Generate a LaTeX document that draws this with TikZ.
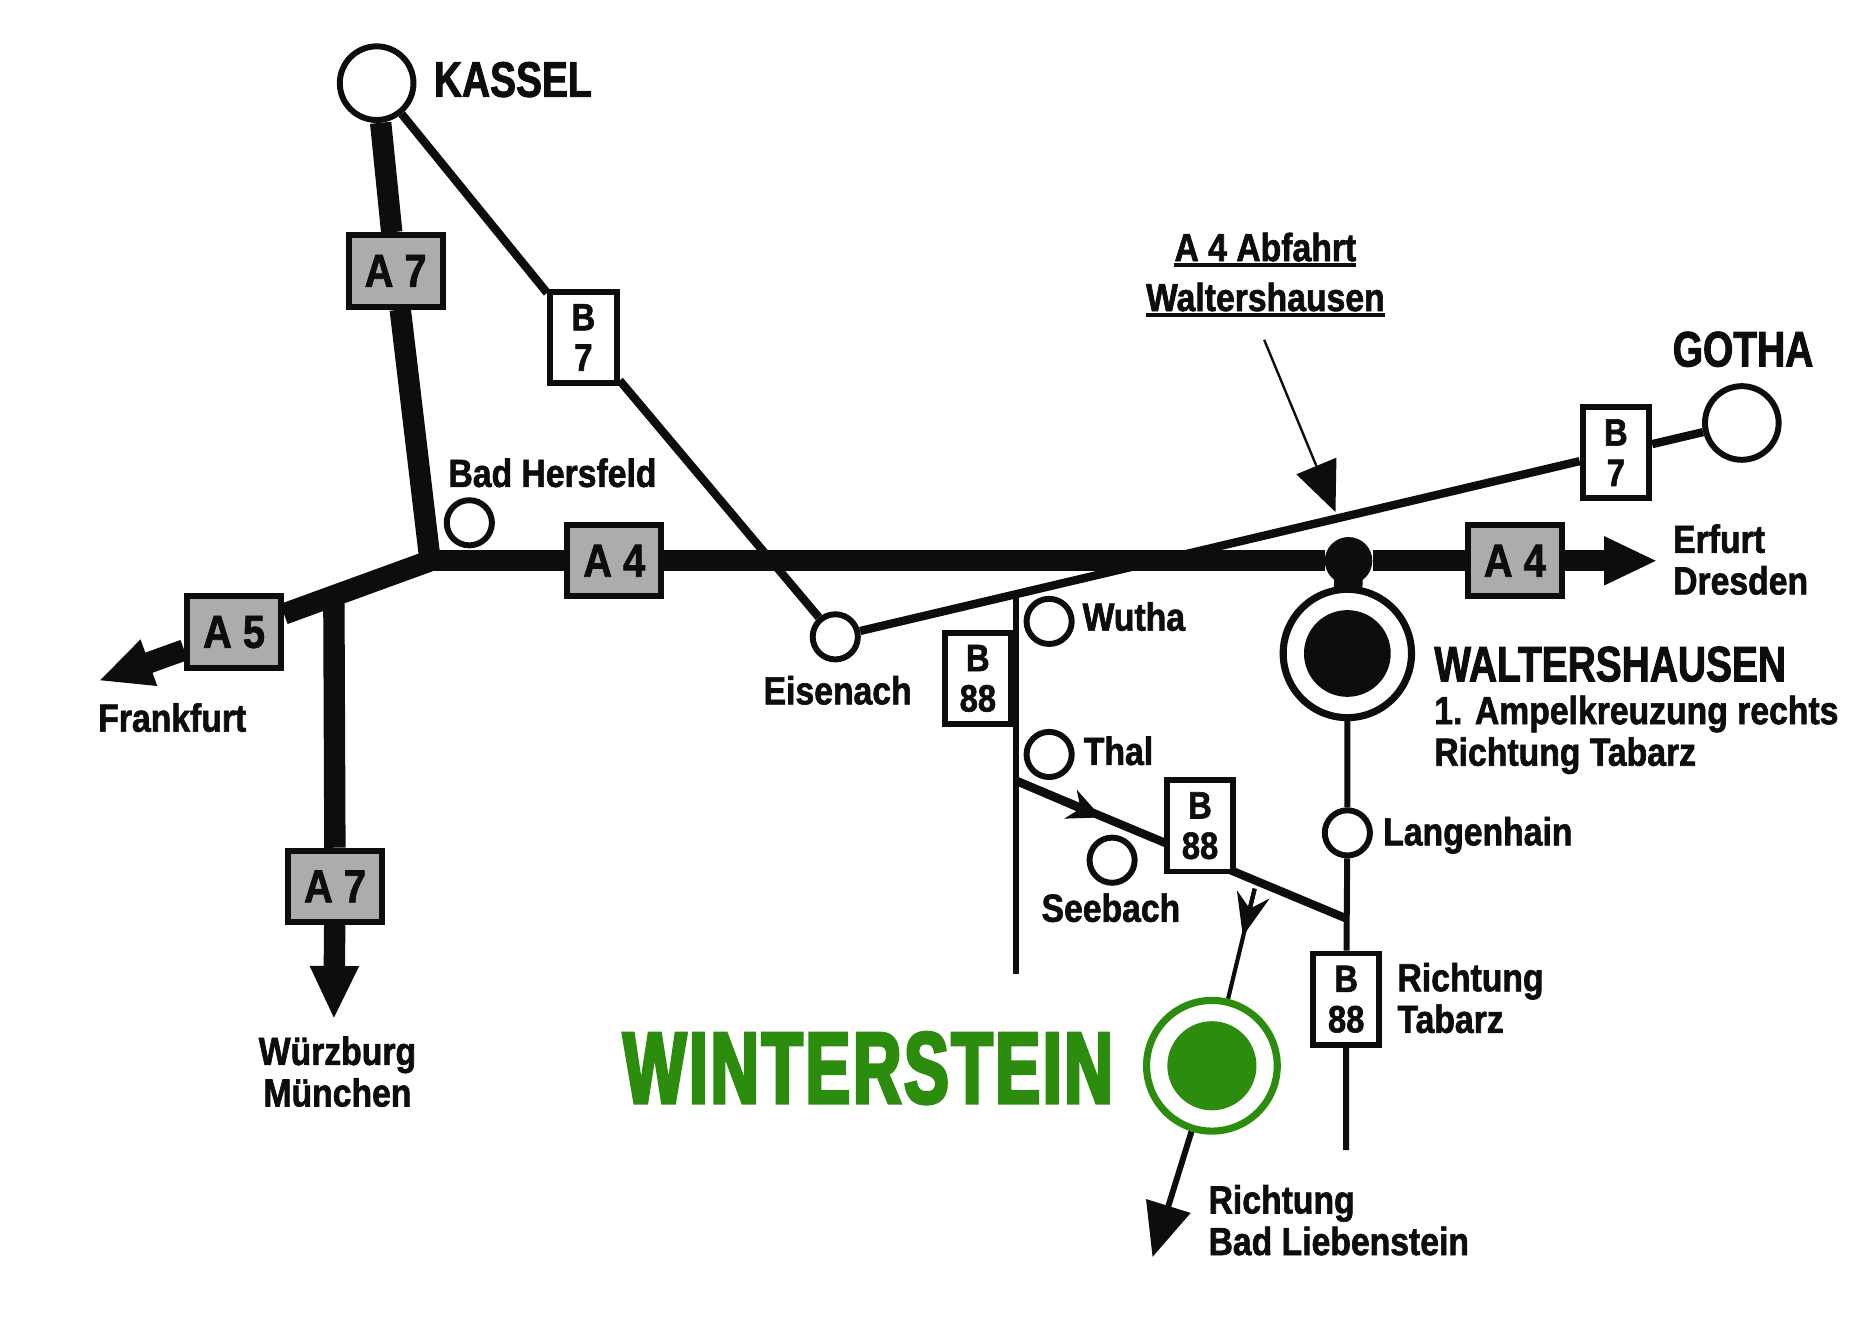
\documentclass[tikz,border=0pt]{standalone}
\usepackage{fontspec}
\setmainfont[FakeStretch=0.86, BoldFeatures={FakeBold=1.6}]{Liberation Sans}
\newfontfamily\capsfont[FakeStretch=0.78, BoldFeatures={FakeBold=1.8}]{Liberation Sans}
\newfontfamily\wsfont[FakeStretch=0.66, LetterSpace=3, BoldFeatures={FakeBold=3.5}]{Liberation Sans}
\usetikzlibrary{arrows.meta, backgrounds}
\definecolor{inkblack}{RGB}{11,14,12}
\definecolor{shieldgray}{RGB}{172,172,172}
\definecolor{wintergreen}{RGB}{43,140,13}
\tikzset{
  town/.style={circle, draw=inkblack, fill=white, line width=5pt, minimum size=38pt, inner sep=0pt},
  bigtown/.style={town, minimum size=62pt},
  ashield/.style={rectangle, draw=inkblack, fill=shieldgray, line width=5pt, minimum width=79pt, minimum height=60pt,
    inner sep=0pt, text=inkblack, font=\bfseries\fontsize{39}{39}\selectfont},
  bshield/.style={rectangle, draw=inkblack, fill=white, line width=5pt, minimum width=56pt, minimum height=77pt,
    inner sep=0pt, align=center, text=inkblack, font=\bfseries\fontsize{32}{34}\selectfont},
  label/.style={inner sep=0pt, align=left, text=inkblack, font=\bfseries\fontsize{33}{35}\selectfont},
  caps/.style={inner sep=0pt, text=inkblack, font=\capsfont\bfseries\fontsize{42}{44}\selectfont},
  motorway/.style={draw=inkblack, line width=18pt},
  federal/.style={draw=inkblack, line width=7pt},
  minor/.style={draw=inkblack, line width=5pt},
  bigtip/.style={-{Triangle[length=45pt, width=38pt]}},
}
\begin{document}
\begin{tikzpicture}[x=1pt, y=-1pt]
  \useasboundingbox (0, 0) rectangle (1568, 1117.7);

  \node [bigtown] (kassel) at (317, 70) {};
  \node [bigtown] (gotha) at (1466, 356) {};
  \node [town] (hersfeld) at (395, 440) {};
  \node [town] (eisenach) at (703, 536) {};
  \node [town] (wutha) at (883, 523) {};
  \node [town] (thal) at (883, 635) {};
  \node [town] (seebach) at (936, 724) {};
  \node [town] (langenhain) at (1134, 701) {};

  \node [circle, fill=inkblack, minimum size=40pt, inner sep=0pt] (exit) at (1135, 472) {};
  \node [circle, draw=inkblack, fill=white, line width=6pt, minimum size=108pt, inner sep=0pt] (walters) at (1134, 550) {};
  \node [circle, fill=inkblack, minimum size=73pt, inner sep=0pt] at (walters) {};
  \node [circle, draw=wintergreen, fill=white, line width=6pt, minimum size=110pt, inner sep=0pt] (winter) at (1020, 897) {};
  \node [circle, fill=wintergreen, minimum size=75pt, inner sep=0pt] at (winter) {};

  \node [ashield] (a7north) at (333, 228) {A 7};
  \node [ashield] (a7south) at (282, 746) {A 7};
  \node [ashield] (a5) at (197, 532) {A 5};
  \node [ashield] (a4west) at (517, 472) {A 4};
  \node [ashield] (a4east) at (1275, 472) {A 4};

  \node [bshield] (b7west) at (491, 284) {B\\7};
  \node [bshield] (b7east) at (1360, 381) {B\\7};
  \node [bshield] (b88north) at (823, 571) {B\\88};
  \node [bshield] (b88mid) at (1010, 695) {B\\88};
  \node [bshield] (b88south) at (1133, 841) {B\\88};

  \coordinate (junction) at (362, 472);
  \coordinate (a5fork) at (281, 505);
  \coordinate (frankfurt) at (83, 573);
  \coordinate (wuerzburg) at (281, 858);
  \coordinate (erfurt) at (1395, 472);
  \coordinate (b88top) at (855, 497);
  \coordinate (b88kink) at (855, 657);
  \coordinate (b88arrow) at (927, 688);
  \coordinate (b88join) at (1133, 773);
  \coordinate (b88foot) at (855, 820);
  \coordinate (tabarzfoot) at (1133, 968);
  \coordinate (winterfork) at (1056, 748);
  \coordinate (winterarrow) at (1046, 788);
  \coordinate (liebenstein) at (970, 1058);
  \coordinate (abfahrtfoot) at (1064, 286);
  \coordinate (abfahrttip) at (1124, 431);

  \begin{pgfonlayer}{background}
    \draw [motorway] (kassel) -- (a7north) -- (junction);
    \draw [motorway, bigtip] (junction) -- (a5) -- (frankfurt);
    \draw [motorway, bigtip] (a5fork) -- (a7south) -- (wuerzburg);
    \draw [motorway, bigtip] (junction) -- (a4west) -- (exit) -- (a4east) -- (erfurt);
    \draw [draw=inkblack, line width=24pt] (exit.center) -- (walters.center);
    \draw [federal] (kassel) -- (b7west) -- (eisenach);
    \draw [federal] (eisenach) -- (b7east) -- (gotha);
    \draw [minor] (b88top) -- (b88kink) -- (b88foot);
    \draw [federal] (b88kink) -- (b88join);
    \draw [federal, -{Stealth[length=28pt, width=26pt, inset=9pt]}] (b88kink) -- (b88arrow);
    \draw [minor] (walters) -- (langenhain) -- (b88south) -- (tabarzfoot);
    \draw [draw=inkblack, line width=3.5pt] (winterfork) -- (winter);
    \draw [draw=inkblack, line width=3.5pt, -{Stealth[length=36pt, width=28pt, inset=12pt]}] (winterfork) -- (winterarrow);
    \draw [minor, bigtip] (winter) -- (liebenstein);
    \draw [draw=inkblack, line width=2pt, -{Triangle[length=42pt, width=36pt]}] (abfahrtfoot) -- (abfahrttip);
  \end{pgfonlayer}

  \node [caps, anchor=west] (kassellabel) at (365, 67) {KASSEL};
  \node [caps] (gothalabel) at (1467, 294) {GOTHA};
  \node [caps, anchor=west] (walterslabel) at (1207, 559) {WALTERSHAUSEN};
  \node [label, anchor=west] (ampel) at (1207, 601) {1. Ampelkreuzung rechts};
  \node [label, anchor=west] (tabarz) at (1207, 636) {Richtung Tabarz};
  \node [label] (abfahrt) at (1065, 208) {A 4 Abfahrt};
  \node [label] (waltershausen) at (1065, 250) {Waltershausen};
  \draw [draw=inkblack, line width=3.5pt] ([yshift=-3pt]abfahrt.south west) -- ([yshift=-3pt]abfahrt.south east);
  \draw [draw=inkblack, line width=3.5pt] ([yshift=-3pt]waltershausen.south west) -- ([yshift=-3pt]waltershausen.south east);
  \node [label] (hersfeldlabel) at (465, 398) {Bad Hersfeld};
  \node [label] (eisenachlabel) at (705, 581) {Eisenach};
  \node [label] (frankfurtlabel) at (145, 604) {Frankfurt};
  \node [label, align=center] (wuerzburglabel) at (284, 902) {Würzburg\\München};
  \node [label, anchor=west] (erfurtlabel) at (1408, 471) {Erfurt\\Dresden};
  \node [label, anchor=west] (wuthalabel) at (911, 519) {Wutha};
  \node [label, anchor=west] (thallabel) at (912, 632) {Thal};
  \node [label] (seebachlabel) at (935, 764) {Seebach};
  \node [label, anchor=west] (langenhainlabel) at (1164, 703) {Langenhain};
  \node [label, anchor=west] (tabarzlabel) at (1176, 840) {Richtung\\Tabarz};
  \node [label, anchor=west] (liebensteinlabel) at (1017, 1027) {Richtung\\Bad Liebenstein};
  \node [inner sep=0pt, text=wintergreen, font=\wsfont\bfseries\fontsize{85}{86}\selectfont] (winterlabel) at (730.5, 899) {WINTERSTEIN};
\end{tikzpicture}
\end{document}
